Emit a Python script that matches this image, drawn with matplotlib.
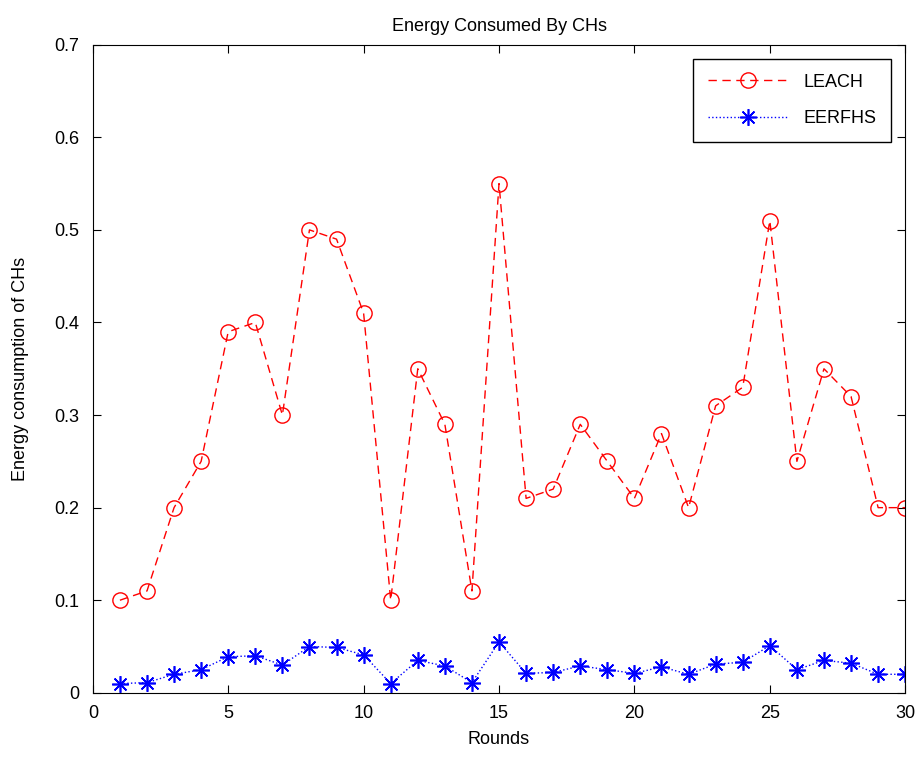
import numpy as np
from matplotlib import pyplot as plt

rounds = np.arange(1, 31)
leach = [0.10, 0.11, 0.20, 0.25, 0.39, 0.40, 0.30, 0.50, 0.49, 0.41,
         0.10, 0.35, 0.29, 0.11, 0.55, 0.21, 0.22, 0.29, 0.25, 0.21,
         0.28, 0.20, 0.31, 0.33, 0.51, 0.25, 0.35, 0.32, 0.20, 0.20]
eerfhs = [0.010, 0.011, 0.020, 0.025, 0.039, 0.040, 0.030, 0.050, 0.049, 0.041,
          0.010, 0.035, 0.029, 0.011, 0.055, 0.021, 0.022, 0.029, 0.025, 0.021,
          0.028, 0.020, 0.031, 0.033, 0.051, 0.025, 0.035, 0.032, 0.020, 0.020]

plt.rcParams['font.family'] = ['Liberation Sans', 'DejaVu Sans']

fig = plt.figure(figsize=(9.19, 7.58), dpi=100)
ax = fig.add_axes([0.101, 0.086, 0.884, 0.855])

ax.plot(rounds, leach, color='red', linestyle=(0, (6, 4)), marker='o', markersize=11,
        markerfacecolor='none', markeredgewidth=1.0, linewidth=1.0, label='LEACH')
ax.plot(rounds, eerfhs, color='blue', linestyle=':', marker=(8, 2, 0), markersize=12,
        markeredgewidth=1.2, linewidth=1.0, label='EERFHS')

ax.set_xlim(0, 30)
ax.set_ylim(0, 0.7)
ax.set_xticks(np.arange(0, 31, 5))
ax.set_yticks(np.arange(0, 0.71, 0.1))
ax.set_yticklabels(['0', '0.1', '0.2', '0.3', '0.4', '0.5', '0.6', '0.7'])
ax.tick_params(direction='in', top=True, right=True, labelsize=13, length=6)
ax.tick_params(axis='y', pad=10)
ax.tick_params(axis='x', pad=9)
ax.set_title('Energy Consumed By CHs', fontsize=13, pad=10)
ax.set_xlabel('Rounds', fontsize=13, labelpad=6)
ax.set_ylabel('Energy consumption of CHs', fontsize=13, labelpad=18)

leg = ax.legend(loc='upper right', fontsize=13, fancybox=False, framealpha=1,
                edgecolor='black', borderaxespad=0.8, handlelength=4.5,
                labelspacing=1.1, borderpad=0.8)
leg.get_frame().set_linewidth(1.0)

fig.savefig('out.png', dpi=100)
